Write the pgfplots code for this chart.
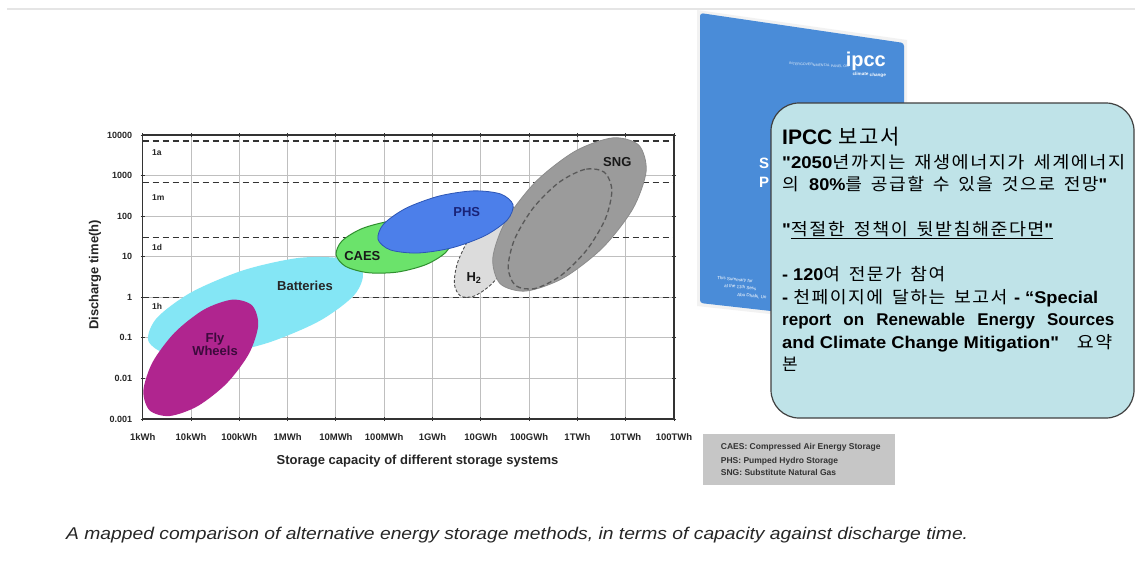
\documentclass[border=0pt]{standalone}
\usepackage{pgfplots}
\pgfplotsset{compat=1.18}
\usepackage{fontspec}
\usepackage{graphicx}
\setmainfont{Liberation Sans}
\newfontfamily\qf{Liberation Sans}
\newfontfamily\kr[LetterSpace=8, WordSpace=1.6]{Noto Sans CJK KR}
\newcommand\K[1]{{\kr #1}}
\newcommand\Q{{\qf\bfseries "}}
\definecolor{batt}{HTML}{84E6F5}
\definecolor{fly}{HTML}{B0258F}
\definecolor{caes}{HTML}{6BE36B}
\definecolor{caesb}{HTML}{2F8F2F}
\definecolor{phs}{HTML}{4C7FEA}
\definecolor{phsb}{HTML}{2C55B5}
\definecolor{htwo}{HTML}{DCDCDC}
\definecolor{sng}{HTML}{9B9B9B}
\definecolor{boxc}{HTML}{BFE3E8}
\definecolor{legg}{HTML}{C6C6C6}
\definecolor{cover}{HTML}{4A8CD8}
\begin{document}
\begin{tikzpicture}[x=1pt,y=1pt]
\path[use as bounding box, fill=white] (0,0) rectangle (1135,-570);
\draw[color=black!10, line width=2pt] (7,-9) -- (1135,-9);

\begin{axis}[
  at={(142.7pt,-419pt)}, anchor=south west,
  scale only axis, width=531.3pt, height=284pt,
  xmin=0, xmax=11, ymin=-3, ymax=4,
  xtick={0,1,2,3,4,5,6,7,8,9,10,11},
  xticklabels={1kWh,10kWh,100kWh,1MWh,10MWh,100MWh,1GWh,10GWh,100GWh,1TWh,10TWh,100TWh},
  ytick={-3,-2,-1,0,1,2,3,4},
  yticklabels={0.001,0.01,0.1,1,10,100,1000,10000},
  grid=major, grid style={draw=black!25, line width=1pt},
  axis line style={draw=black!80, line width=1.5pt},
  major tick length=4pt, tick align=center,
  tick style={draw=black!80, line width=1pt},
  xticklabel style={font=\bfseries\fontsize{9.5}{10}\selectfont, text=black!85, yshift=-9pt},
  yticklabel style={font=\bfseries\fontsize{9}{10}\selectfont, text=black!85, xshift=-5pt},
  /pgf/number format/assume math mode=true,
]
% period lines
\addplot[black!80, line width=1.4pt, dash pattern=on 6pt off 4pt] coordinates {(0,3.852) (11,3.852)};
\addplot[black!80, line width=1.4pt, dash pattern=on 6pt off 4pt] coordinates {(0,2.826) (11,2.826)};
\addplot[black!80, line width=1.4pt, dash pattern=on 6pt off 4pt] coordinates {(0,1.471) (11,1.471)};
\addplot[black!80, line width=1.4pt, dash pattern=on 6pt off 4pt] coordinates {(0,0.002) (11,0.002)};
% Batteries
\addplot[fill=batt, draw=none, smooth cycle] coordinates {(4.554,0.613) (4.137,0.949) (3.236,0.971) (2.094,0.670) (1.016,0.129) (0.293,-0.509) (0.116,-1.071) (0.533,-1.407) (1.434,-1.429) (2.576,-1.128) (3.654,-0.587) (4.377,0.051)};
% Fly wheels
\addplot[fill=fly, draw=none, smooth cycle] coordinates {(2.264,-0.199) (1.852,-0.059) (1.267,-0.304) (0.664,-0.867) (0.205,-1.598) (0.014,-2.301) (0.142,-2.787) (0.554,-2.927) (1.139,-2.682) (1.742,-2.119) (2.201,-1.388) (2.392,-0.685)};
% H2
\addplot[fill=htwo, draw=black!70, line width=0.9pt, dash pattern=on 3pt off 2pt, smooth cycle] coordinates {(7.719,2.204) (7.441,2.208) (7.084,1.921) (6.745,1.418) (6.514,0.835) (6.453,0.328) (6.579,0.032) (6.857,0.028) (7.214,0.315) (7.553,0.818) (7.784,1.401) (7.845,1.908)};
% SNG
\addplot[fill=sng, draw=black!45, line width=0.8pt, smooth cycle] coordinates {(10.271,3.749) (9.735,3.930) (8.958,3.605) (8.148,2.861) (7.522,1.897) (7.249,0.974) (7.401,0.335) (7.937,0.154) (8.714,0.479) (9.524,1.223) (10.150,2.187) (10.423,3.110)};
\addplot[draw=black!65, line width=1.3pt, dash pattern=on 5pt off 3pt, smooth cycle] coordinates {(9.558,3.082) (9.157,3.153) (8.618,2.831) (8.085,2.201) (7.700,1.433) (7.567,0.733) (7.722,0.288) (8.123,0.217) (8.662,0.539) (9.195,1.169) (9.580,1.937) (9.713,2.637)};
% CAES
\addplot[fill=caes, draw=caesb, line width=1pt, smooth cycle] coordinates {(6.398,1.449) (6.201,1.736) (5.736,1.892) (5.127,1.876) (4.538,1.692) (4.127,1.390) (4.004,1.049) (4.201,0.762) (4.666,0.606) (5.275,0.622) (5.864,0.806) (6.275,1.108)};
% PHS
\addplot[fill=phs, draw=phsb, line width=0.8pt, smooth cycle] coordinates {(7.667,2.284) (7.411,2.546) (6.849,2.623) (6.132,2.494) (5.451,2.195) (4.989,1.806) (4.871,1.430) (5.127,1.168) (5.689,1.091) (6.406,1.220) (7.087,1.519) (7.549,1.908)};
% labels
\begin{scope}[every node/.style={font=\bfseries\fontsize{13}{14}\selectfont}]
\node[text=black!85] at (axis cs:3.36,0.288) {Batteries};
\node[text={rgb,255:red,60;green,10;blue,60}, align=center] at (axis cs:1.497,-1.148) {Fly\\[-1pt]Wheels};
\node[text=black!90] at (axis cs:4.547,1.02) {CAES};
\node[text={rgb,255:red,25;green,35;blue,120}] at (axis cs:6.708,2.096) {PHS};
\node[text=black!90] at (axis cs:6.859,0.47) {H\textsubscript{2}};
\node[text=black!90] at (axis cs:9.826,3.327) {SNG};
\end{scope}
\begin{scope}[every node/.style={font=\bfseries\fontsize{8.5}{9}\selectfont, text=black!85, anchor=west}]
\node at (axis cs:0.12,3.56) {1a};
\node at (axis cs:0.12,2.46) {1m};
\node at (axis cs:0.12,1.22) {1d};
\node at (axis cs:0.12,-0.23) {1h};
\end{scope}
\end{axis}

\node[rotate=90, font=\bfseries\fontsize{13}{13}\selectfont, text=black!85] at (95,-275) {Discharge time(h)};
\node[font=\bfseries\fontsize{13}{13}\selectfont, text=black!85] at (417.5,-461) {Storage capacity of different storage systems};

% IPCC cover
\fill[black!5] (697,-10) -- (907,-40) -- (907,-329) -- (697,-306) -- cycle;
\fill[cover, rounded corners=3pt] (700,-13) -- (904,-43) -- (904,-326) -- (700,-303) -- cycle;
\node[anchor=base east, inner sep=0, text=white, font=\bfseries\fontsize{20}{20}\selectfont] at (886,-66) {ipcc};
\node[anchor=base east, inner sep=0, text=white!85!cover, font=\fontsize{3.6}{4}\selectfont, rotate=-3] at (849,-68) {INTERGOVERNMENTAL PANEL ON};
\node[anchor=base east, inner sep=0, text=white, font=\bfseries\fontsize{4.6}{5}\selectfont, rotate=-3] at (886,-77) {climate change};
\node[anchor=base west, inner sep=0, text=white, font=\bfseries\fontsize{15}{15}\selectfont] at (759,-168) {S};
\node[anchor=base west, inner sep=0, text=white, font=\bfseries\fontsize{15}{15}\selectfont] at (759,-187) {P};
\begin{scope}[every node/.style={anchor=base west, inner sep=0, text=white, font=\fontsize{4.5}{5}\selectfont, rotate=-6}]
\node at (717,-279) {This Summary for};
\node at (724,-287) {at the 11th Sess};
\node at (737,-296) {Abu Dhabi, Un};
\end{scope}

% text box
\draw[fill=boxc, draw=black!75, line width=1.2pt, rounded corners=28pt] (771,-103) rectangle (1134,-418);
\begin{scope}[every node/.style={anchor=base west, inner sep=0, text=black}]
\node[font=\fontsize{21}{21}\selectfont] at (782,-144) {\textbf{IPCC} \K{보고서}};
\node[font=\fontsize{17}{17}\selectfont] at (782,-168.3) {\resizebox{343pt}{\height}{\Q\textbf{2050}\K{년까지는 재생에너지가 세계에너지}}};
\node[font=\fontsize{17}{17}\selectfont] at (782,-190.7) {\resizebox{325pt}{\height}{\K{의 }\textbf{80\%}\K{를 공급할 수 있을 것으로 전망}\Q}};
\node[font=\fontsize{17}{17}\selectfont] at (782,-235) {\resizebox{271pt}{\height}{\Q\underline{\K{적절한 정책이 뒷받침해준다면}\Q}}};
\node[font=\fontsize{17}{17}\selectfont] at (782,-280) {\resizebox{163pt}{\height}{\textbf{- 120}\K{여 전문가 참여}}};
\node[font=\fontsize{17}{17}\selectfont] at (782,-303.3) {\resizebox{316pt}{\height}{\textbf{- }\K{천페이지에 달하는 보고서}\textbf{ - “Special}}};
\node[font=\fontsize{17}{17}\selectfont] at (782,-325) {\makebox[332pt][s]{\bfseries report on Renewable Energy Sources}};
\node[font=\fontsize{17}{17}\selectfont] at (782,-348.3) {\resizebox{330pt}{\height}{\textbf{and Climate Change Mitigation}\Q\K{\ \ 요약}}};
\node[font=\fontsize{17}{17}\selectfont] at (782,-370.7) {\K{본}};
\end{scope}

% legend box
\fill[legg] (703,-434) rectangle (895,-485);
\begin{scope}[every node/.style={anchor=base west, inner sep=0, text=black!80, font=\bfseries\fontsize{8.5}{9}\selectfont}]
\node at (720.7,-449.5) {CAES: Compressed Air Energy Storage};
\node at (720.7,-463.8) {PHS: Pumped Hydro Storage};
\node at (720.7,-475.5) {SNG: Substitute Natural Gas};
\end{scope}

% caption
\node[anchor=base west, inner sep=0, text=black!85, font=\itshape\fontsize{17}{17}\selectfont] at (66,-539) {\resizebox{902pt}{\height}{A mapped comparison of alternative energy storage methods, in terms of capacity against discharge time.}};
\end{tikzpicture}
\end{document}
